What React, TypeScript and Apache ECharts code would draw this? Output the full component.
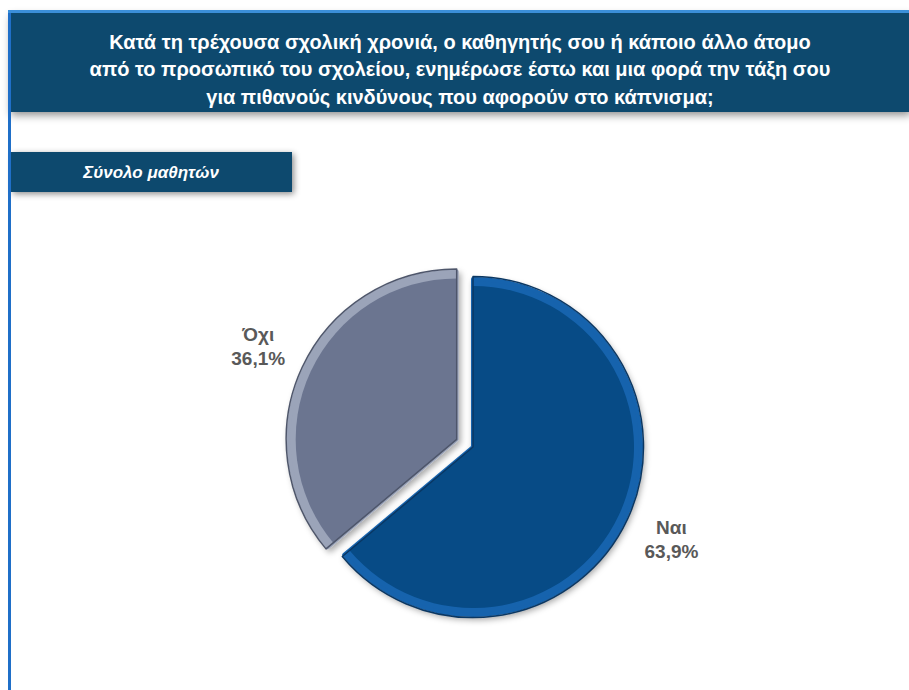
import React, { useEffect, useRef } from "react";
import * as echarts from "echarts";

const titleLines = [
  "Κατά τη τρέχουσα σχολική χρονιά, ο καθηγητής σου ή κάποιο άλλο άτομο",
  "από το προσωπικό του σχολείου, ενημέρωσε έστω και μια φορά την τάξη σου",
  "για πιθανούς κινδύνους που αφορούν στο κάπνισμα;",
];
const subtitle = "Σύνολο μαθητών";
const categories = ["Ναι", "Όχι"];
const values = [63.9, 36.1];
const explodedCategory = "Όχι";
const sliceColors = ["#074b86", "#6b7590"];
const sliceBands = ["#1763ad", "#9ba4b9"];
const sliceRims = ["#0a3763", "#4e566b"];

const fmt = (v: number) => v.toFixed(1).replace(".", ",") + "%";

export default function App() {
  const ref = useRef<HTMLDivElement>(null);
  useEffect(() => {
    if (!ref.current) return;
    const chart = echarts.init(ref.current, undefined, { renderer: "svg" });
    const navy = "#0f4a6e";
    const baseSeries = {
      type: "pie",
      center: [473, 447],
      startAngle: 90,
      clockwise: true,
      selectedMode: "single",
      selectedOffset: 18,
      silent: true,
      emphasis: { disabled: true },
      labelLine: { show: false },
    };
    const bandData = categories.map((c, i) => ({
      name: c,
      value: values[i],
      selected: c === explodedCategory,
      itemStyle: {
        color: sliceBands[i],
        borderColor: sliceBands[i],
        borderWidth: 4,
      },
    }));
    const fillData = categories.map((c, i) => ({
      name: c,
      value: values[i],
      selected: c === explodedCategory,
      itemStyle: {
        color: sliceColors[i],
        borderColor: sliceColors[i],
        borderWidth: 0,
      },
    }));
    const rimData = categories.map((c, i) => ({
      name: c,
      value: values[i],
      selected: c === explodedCategory,
      itemStyle: {
        color: "rgba(0,0,0,0)",
        borderColor: sliceRims[i],
        borderWidth: 1.5,
      },
    }));
    const labelData = categories.map((c, i) => ({
      name: c,
      value: values[i],
      selected: c === explodedCategory,
    }));
    chart.setOption({
      animation: false,
      graphic: [
        {
          type: "rect",
          shape: { x: 8, y: 11, width: 3, height: 690 },
          style: { fill: "#1f6fc8" },
          z: 10,
        },
        {
          type: "rect",
          shape: { x: 8, y: 10, width: 905, height: 3 },
          style: { fill: "#3b8fd9" },
          z: 10,
        },
        {
          type: "rect",
          shape: { x: 11, y: 13, width: 900, height: 99 },
          style: {
            fill: navy,
            shadowBlur: 8,
            shadowColor: "rgba(0,0,0,0.45)",
            shadowOffsetY: 3,
          },
          z: 5,
        },
        {
          type: "text",
          x: 460,
          y: 28,
          style: {
            text: titleLines.join("\n"),
            fill: "#ffffff",
            font: "bold 20px 'Liberation Sans', Arial, sans-serif",
            lineHeight: 27.5,
            align: "center",
            verticalAlign: "top",
          },
          z: 11,
        },
        {
          type: "rect",
          shape: { x: 11, y: 152, width: 281, height: 40 },
          style: {
            fill: navy,
            shadowBlur: 6,
            shadowColor: "rgba(0,0,0,0.45)",
            shadowOffsetY: 2,
            shadowOffsetX: 2,
          },
          z: 5,
        },
        {
          type: "text",
          x: 151,
          y: 172,
          style: {
            text: subtitle,
            fill: "#ffffff",
            font: "italic bold 17px 'Liberation Sans', Arial, sans-serif",
            align: "center",
            verticalAlign: "middle",
          },
          z: 11,
        },
      ],
      series: [
        {
          ...baseSeries,
          radius: [0, 168],
          label: { show: false },
          itemStyle: {
            shadowBlur: 6,
            shadowColor: "rgba(0,0,0,0.35)",
            shadowOffsetX: 2,
            shadowOffsetY: 3,
          },
          data: bandData,
          z: 2,
        },
        {
          ...baseSeries,
          radius: [0, 161],
          label: { show: false },
          data: fillData,
          z: 3,
        },
        {
          ...baseSeries,
          radius: [0, 170.5],
          label: { show: false },
          data: rimData,
          z: 4,
        },
        {
          ...baseSeries,
          radius: [0, 432],
          itemStyle: { color: "rgba(0,0,0,0)" },
          label: {
            show: true,
            position: "inside",
            formatter: (p: any) => `${p.name}\n${fmt(p.value)}`,
            color: "#595959",
            fontSize: 19,
            fontWeight: "bold",
            fontFamily: "'Liberation Sans', Arial, sans-serif",
            lineHeight: 24,
            align: "center",
          },
          data: labelData,
          z: 1,
        },
      ],
    });
    return () => chart.dispose();
  }, []);
  return (
    <div
      ref={ref}
      style={{
        position: "fixed",
        left: 0,
        top: 0,
        width: 909,
        height: 690,
        background: "#ffffff",
      }}
    />
  );
}
